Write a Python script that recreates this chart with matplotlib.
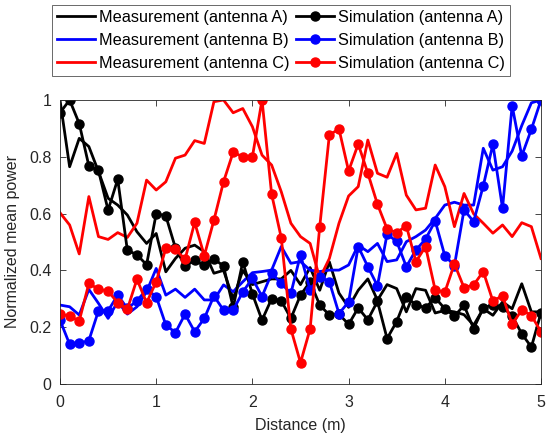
import numpy as np
import matplotlib
matplotlib.use("Agg")
import matplotlib.pyplot as plt

plt.rcParams['font.family'] = ['Liberation Sans', 'DejaVu Sans']

distance = [round(0.1 * i, 1) for i in range(51)]

meas_A = [1.0, 0.765, 0.865, 0.836, 0.748, 0.654, 0.63, 0.595, 0.536, 0.495,
          0.53, 0.395, 0.442, 0.478, 0.489, 0.466, 0.39, 0.40, 0.30, 0.40,
          0.35, 0.36, 0.37, 0.37, 0.40, 0.35, 0.41, 0.33, 0.43, 0.32,
          0.27, 0.33, 0.37, 0.295, 0.35, 0.336, 0.254, 0.336, 0.33, 0.25,
          0.259, 0.254, 0.244, 0.207, 0.265, 0.242, 0.289, 0.265, 0.353, 0.254, 0.254]
meas_B = [0.278, 0.272, 0.243, 0.333, 0.284, 0.231, 0.29, 0.246, 0.272, 0.325,
          0.407, 0.313, 0.334, 0.305, 0.334, 0.296, 0.296, 0.349, 0.325, 0.36,
          0.392, 0.396, 0.401, 0.484, 0.425, 0.431, 0.401, 0.396, 0.401, 0.401,
          0.419, 0.489, 0.466, 0.495, 0.431, 0.437, 0.501, 0.519, 0.542, 0.583,
          0.63, 0.64, 0.63, 0.63, 0.83, 0.753, 0.765, 0.82, 0.91, 0.99, 1.0]
meas_C = [0.603, 0.56, 0.458, 0.66, 0.519, 0.509, 0.533, 0.516, 0.566, 0.718,
          0.683, 0.712, 0.795, 0.806, 0.857, 0.847, 0.994, 1.0, 0.955, 0.97,
          0.906, 0.806, 0.771, 0.677, 0.566, 0.519, 0.495, 0.372, 0.442, 0.566,
          0.662, 0.695, 0.859, 0.742, 0.728, 0.812, 0.665, 0.613, 0.619, 0.771,
          0.695, 0.554, 0.671, 0.599, 0.566, 0.531, 0.56, 0.519, 0.568, 0.554, 0.442]
sim_A = [0.955, 1.0, 0.917, 0.768, 0.752, 0.612, 0.721, 0.471, 0.455, 0.42,
         0.60, 0.592, 0.479, 0.415, 0.435, 0.418, 0.441, 0.415, 0.27, 0.43,
         0.317, 0.225, 0.30, 0.293, 0.231, 0.313, 0.36, 0.278, 0.243, 0.246,
         0.21, 0.268, 0.226, 0.291, 0.16, 0.22, 0.306, 0.279, 0.268, 0.304,
         0.265, 0.239, 0.277, 0.195, 0.268, 0.279, 0.271, 0.24, 0.177, 0.13, 0.251]
sim_B = [0.225, 0.14, 0.143, 0.153, 0.258, 0.258, 0.313, 0.266, 0.293, 0.333,
         0.308, 0.208, 0.181, 0.246, 0.184, 0.231, 0.31, 0.26, 0.26, 0.324,
         0.372, 0.308, 0.39, 0.354, 0.319, 0.455, 0.331, 0.378, 0.36, 0.248,
         0.289, 0.484, 0.413, 0.346, 0.528, 0.502, 0.413, 0.472, 0.51, 0.574,
         0.452, 0.417, 0.613, 0.572, 0.698, 0.844, 0.619, 0.98, 0.803, 0.897, 1.0]
sim_C = [0.246, 0.239, 0.222, 0.354, 0.334, 0.327, 0.286, 0.263, 0.369, 0.286,
         0.36, 0.478, 0.474, 0.439, 0.569, 0.452, 0.577, 0.712, 0.816, 0.80,
         0.80, 1.0, 0.668, 0.515, 0.194, 0.075, 0.194, 0.554, 0.877, 0.898,
         0.75, 0.845, 0.742, 0.633, 0.546, 0.533, 0.557, 0.431, 0.484, 0.331,
         0.323, 0.423, 0.339, 0.349, 0.396, 0.292, 0.311, 0.21, 0.261, 0.241, 0.184]

x_ticks = [0, 1, 2, 3, 4, 5]
y_ticks = [0, 0.2, 0.4, 0.6, 0.8, 1]
y_tick_labels = ['0', '0.2', '0.4', '0.6', '0.8', '1']

fig = plt.figure(figsize=(5.48, 4.38), dpi=100)
ax = fig.add_axes([60/548, 1 - 384/438, 481/548, 284/438])

lw = 2.0
ms = 6.5
h1, = ax.plot(distance, meas_A, color='black', lw=lw, label='Measurement (antenna A)')
h2, = ax.plot(distance, meas_B, color='blue', lw=lw, label='Measurement (antenna B)')
h3, = ax.plot(distance, meas_C, color='red', lw=lw, label='Measurement (antenna C)')
h4, = ax.plot(distance, sim_A, color='black', lw=lw, marker='o', ms=ms, label='Simulation (antenna A)')
h5, = ax.plot(distance, sim_B, color='blue', lw=lw, marker='o', ms=ms, label='Simulation (antenna B)')
h6, = ax.plot(distance, sim_C, color='red', lw=lw, marker='o', ms=ms, label='Simulation (antenna C)')

ax.set_xlim(0, 5)
ax.set_ylim(0, 1)
ax.set_xticks(x_ticks)
ax.set_yticks(y_ticks)
ax.set_yticklabels(y_tick_labels)
ax.tick_params(direction='in', top=True, right=True, labelsize=11.5, length=4,
               color='#262626', labelcolor='#262626', width=0.6)
ax.tick_params(axis='x', pad=8)
ax.tick_params(axis='y', pad=6)
for s in ax.spines.values():
    s.set_color('#262626')
    s.set_linewidth(0.6)
ax.set_xlabel('Distance (m)', fontsize=11.5, color='#262626', labelpad=6)
ax.set_ylabel('Normalized mean power', fontsize=11.5, color='#262626', labelpad=7)

leg = fig.legend(handles=[h1, h2, h3, h4, h5, h6], ncol=2, loc='upper left',
                 bbox_to_anchor=(52/548, 1 - 5/438), fontsize=11.7, frameon=True,
                 fancybox=False, edgecolor='#262626', handlelength=2.35,
                 handletextpad=0.25, columnspacing=0.4, labelspacing=0.5,
                 borderpad=0.3, borderaxespad=0)
leg.get_frame().set_linewidth(0.6)

fig.savefig('out.png', dpi=100)
